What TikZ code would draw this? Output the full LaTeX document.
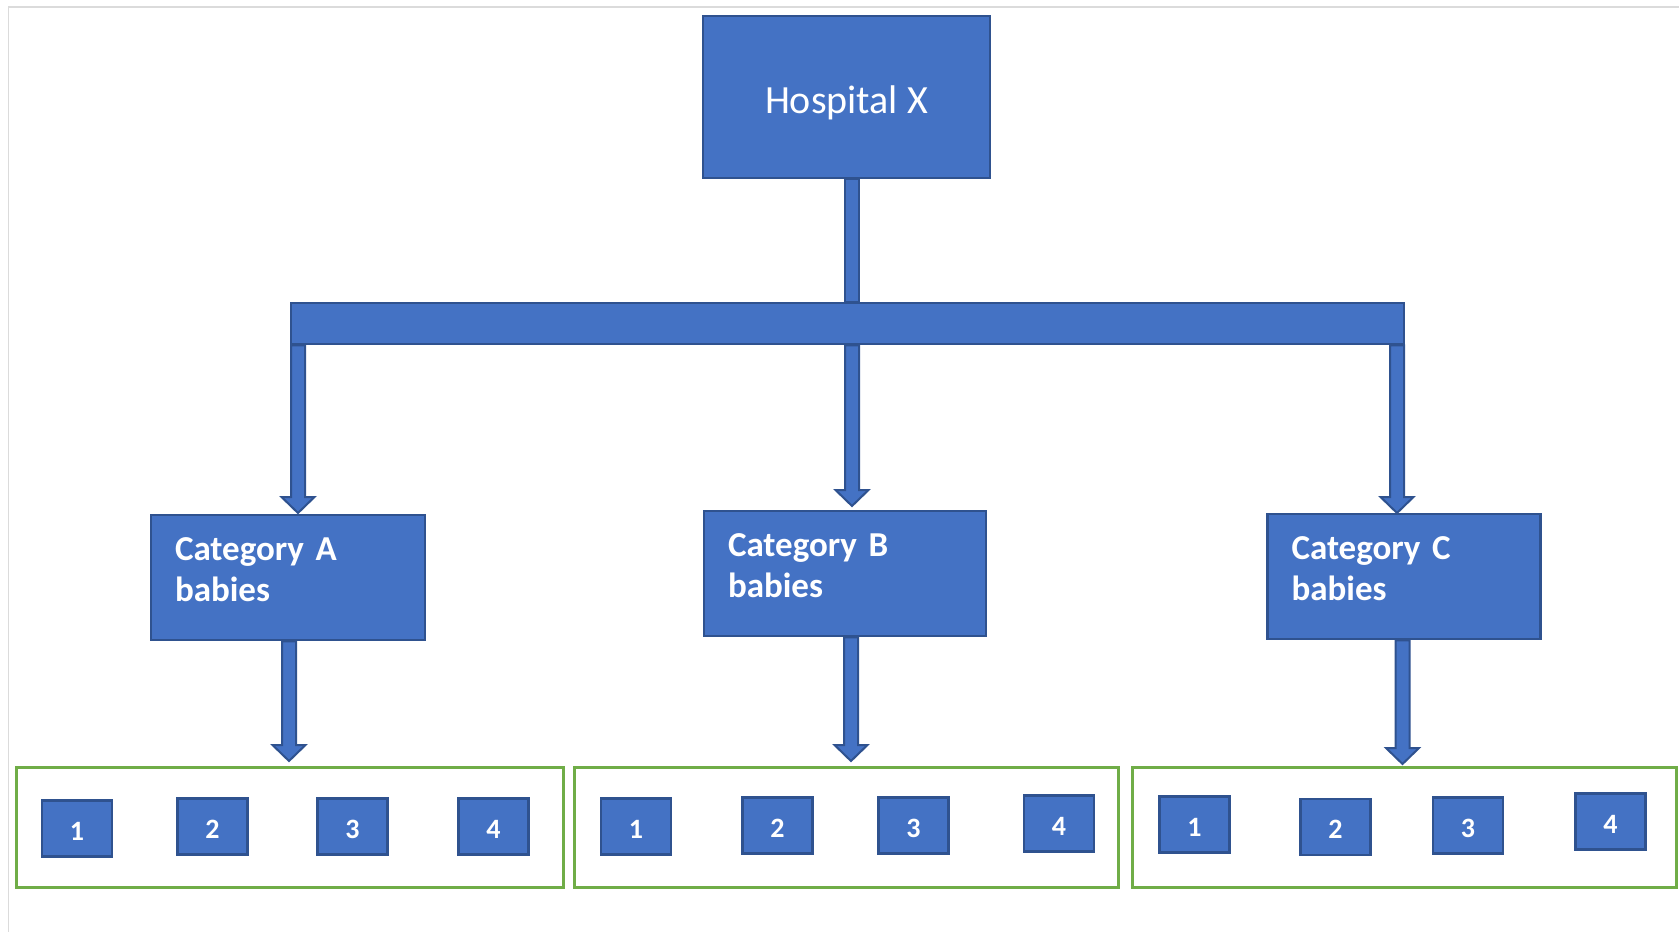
\documentclass[tikz,border=0pt]{standalone}
\usepackage{fontspec}
\setmainfont{Carlito}
\newfontfamily\catfont{Carlito}[WordSpace=0.8]
\usetikzlibrary{calc}
\definecolor{officeblue}{HTML}{4472C4}
\definecolor{darkblue}{HTML}{2F528F}
\definecolor{officegreen}{HTML}{70AD47}
\tikzset{
BOX/.style ={draw=darkblue,fill=officeblue,line width=2.5pt,text=white,inner sep=0pt},
CATBOX/.style ={BOX,minimum height=125,inner xsep=24pt,align=left,text height=24pt,text depth=59pt,font=\fontsize{35}{41}\selectfont\catfont\bfseries},
NUMBOX/.style ={BOX,minimum width=70,minimum height=56,text height=23.5pt,text depth=0pt,font=\fontsize{28}{32}\selectfont\bfseries},
GROUP/.style ={draw=officegreen,line width=3pt,minimum height=120,inner sep=0pt},
ARROWBODY/.style ={draw=darkblue,fill=officeblue,line width=2pt,line join=miter},
FRAME/.style ={draw=black!14,line width=1.5pt},
}
% block arrow from anchor #1 straight down to tip #2
\newcommand{\blockarrow}[2]{%
	\coordinate (s) at (#2 |- #1);
	\path[ARROWBODY] ($(s)+(-7,0)$) -- ($(#2)+(-7,-16)$) -- ($(#2)+(-16.5,-16)$) -- (#2)
		-- ($(#2)+(16.5,-16)$) -- ($(#2)+(7,-16)$) -- ($(s)+(7,0)$) -- cycle;}

\begin{document}
\begin{tikzpicture}[x=1pt,y=-1pt]
	\useasboundingbox (0,0) rectangle (1679,932);
	\path[FRAME] (8,7) -- (1679,7) (8.5,7) -- (8.5,932); % sheet edge
	\node[BOX,minimum width=287,minimum height=162,text height=32pt,text depth=0pt,font=\fontsize{40}{48}\selectfont] (hosp) at (846.5,97) {Hospital X};
	\node[BOX,minimum width=1113,minimum height=41] (bar) at (847.5,323.5) {};
	\coordinate (stemtop) at (hosp.south |- bar.north);
	\path[ARROWBODY] ($(hosp.south)+(-1.5,0)$) rectangle ($(stemtop)+(12.5,0)$);
	\foreach \n/\x/\t in {A/298/513, B/852/506, C/1397/513} { % bar to categories
		\coordinate (tip\n) at (\x,\t);
		\blockarrow{bar.south}{tip\n}
	}
	\foreach \n/\x/\y/\w/\tw in {A/288/577.5/274/226, B/845/573.5/282/234, C/1404/576.5/273/225}
		\node[CATBOX,minimum width=\w,text width=\tw] (cat\n) at (\x,\y) {Category \n\\babies};
	\foreach \g/\x/\w in {A/289.5/547, B/846/544, C/1404/544}
		\node[GROUP,minimum width=\w] (grp\g) at (\x,827) {};
	\foreach \n/\x/\t in {A/289/761, B/851/761, C/1402.5/764} { % categories to groups
		\coordinate (gtip\n) at (\x,\t);
		\blockarrow{cat\n.south}{gtip\n}
	}
	\foreach \g/\k/\x/\y in {A/1/77/828.5, A/2/212.5/826.5, A/3/352.5/826.5, A/4/493.5/826.5,
			B/1/636/826.5, B/2/777.5/825.5, B/3/913.5/825.5, B/4/1059/823.5,
			C/1/1194.5/824.5, C/2/1335.5/827, C/3/1468/825.5, C/4/1610.5/821.5}
		\node[NUMBOX] (n\g\k) at (\x,\y) {\k};
\end{tikzpicture}
\end{document}
